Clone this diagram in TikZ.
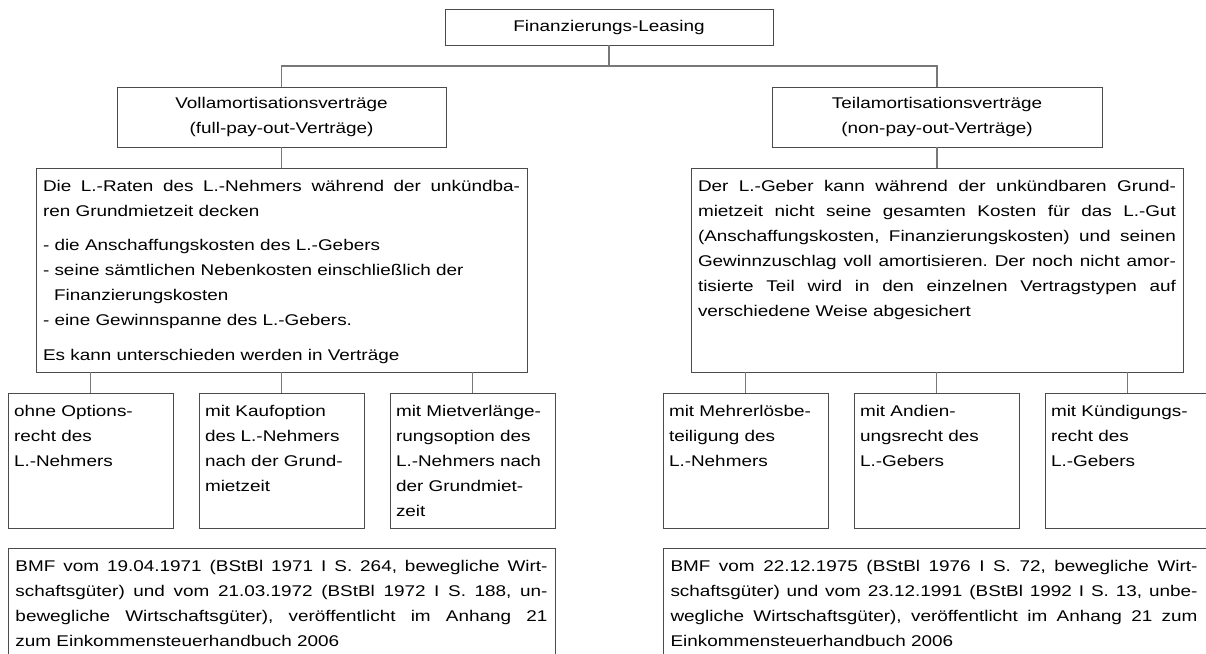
\documentclass[tikz,border=0pt]{standalone}
\usepackage{fontspec}
\setmainfont{Liberation Sans}[FakeStretch=1.22]
\usetikzlibrary{positioning,calc}
\definecolor{framec}{RGB}{75,75,75}
\definecolor{linkc}{RGB}{120,120,120}
\newcommand{\cellbody}[3]{\begin{minipage}[t][#2pt][t]{#1pt}\frenchspacing\strut#3\end{minipage}}

\begin{document}
\begin{tikzpicture}[x=1pt,y=-1pt,font=\fontsize{15.5}{25}\selectfont,
  box/.style={draw=framec,line width=1pt,anchor=north west,inner xsep=7pt,inner ysep=5.5pt,outer sep=0pt},
  head/.style={draw=framec,line width=1pt,align=center,inner sep=0pt,outer sep=0pt},
  link/.style={draw=linkc,line width=1.3pt}]
  \useasboundingbox (0,0) rectangle (1206,653);
  \clip (0,0) rectangle (1206,653);
  % top of the tree
  \node[head,minimum width=328pt,minimum height=36pt] (fin) at (609,27) {Finanzierungs-Leasing};
  \node[head,minimum width=329pt,minimum height=60pt] (voll) at (281.5,117) {Vollamortisationsverträge\\(full-pay-out-Verträge)};
  \node[head,minimum width=330pt,minimum height=60pt] (teil) at (937,117) {Teilamortisationsverträge\\(non-pay-out-Verträge)};
  % descriptions
  \node[box] (vtext) at (36,168) {\cellbody{477}{193}{Die L.-Raten des L.-Nehmers während der unkündba-\linebreak ren Grundmietzeit decken\\[9pt]
    - die Anschaffungskosten des L.-Gebers\\
    - seine sämtlichen Nebenkosten einschließlich der\\
    \hspace*{11pt}Finanzierungskosten\\
    - eine Gewinnspanne des L.-Gebers.\\[10pt]
    Es kann unterschieden werden in Verträge}};
  \node[box] (ttext) at (691,168) {\cellbody{478}{193}{Der L.-Geber kann während der unkündbaren Grund-\linebreak
    mietzeit nicht seine gesamten Kosten für das L.-Gut\linebreak
    (Anschaffungskosten, Finanzierungskosten) und seinen\linebreak
    Gewinnzuschlag voll amortisieren. Der noch nicht amor-\linebreak
    tisierte Teil wird in den einzelnen Vertragstypen auf\linebreak
    verschiedene Weise abgesichert}};
  % contract types
  \node[box,inner xsep=6pt] (ohne) at (8,393) {\cellbody{153}{124}{\raggedright ohne Options-\\recht des\\L.-Nehmers}};
  \node[box,inner xsep=6pt] (kauf) at (199,393) {\cellbody{153}{124}{\raggedright mit Kaufoption\\des L.-Nehmers\\nach der Grund-\\mietzeit}};
  \node[box,inner xsep=6pt] (miet) at (390,393) {\cellbody{153}{124}{\raggedright mit Mietverlänge-\\rungsoption des\\L.-Nehmers nach\\der Grundmiet-\\zeit}};
  \node[box,inner xsep=6pt] (mehr) at (663,393) {\cellbody{153}{124}{\raggedright mit Mehrerlösbe-\\teiligung des\\L.-Nehmers}};
  \node[box,inner xsep=6pt] (andi) at (854,393) {\cellbody{153}{124}{\raggedright mit Andien-\\ungsrecht des\\L.-Gebers}};
  \node[box,inner xsep=6pt] (kuend) at (1045,393) {\cellbody{153}{124}{\raggedright mit Kündigungs-\\recht des\\L.-Gebers}};
  % sources
  \node[box,inner xsep=7.5pt] (bmfv) at (8,548) {\cellbody{532}{120}{BMF vom 19.04.1971 (BStBl 1971 I S. 264, bewegliche Wirt-\linebreak
    schaftsgüter) und vom 21.03.1972 (BStBl 1972 I S. 188, un-\linebreak
    bewegliche Wirtschaftsgüter), veröffentlicht im Anhang 21\linebreak
    zum Einkommensteuerhandbuch 2006}};
  \node[box,inner xsep=7.5pt] (bmft) at (663,548) {\cellbody{527}{120}{BMF vom 22.12.1975 (BStBl 1976 I S. 72, bewegliche Wirt-\linebreak
    schaftsgüter) und vom 23.12.1991 (BStBl 1992 I S. 13, unbe-\linebreak
    wegliche Wirtschaftsgüter), veröffentlicht im Anhang 21 zum\linebreak
    Einkommensteuerhandbuch 2006}\hspace*{10pt}};
  % connectors
  \draw[link] (fin.south) -- ++(0,21) coordinate (fork);
  \draw[link] (voll.north) |- (fork) -| (teil.north);
  \draw[link] (voll.south) -- (vtext.north);
  \draw[link] (teil.south) -- (ttext.north);
  \foreach \c in {ohne,kauf,miet}
    \draw[link] (\c.north) -- (\c.north |- vtext.south);
  \foreach \c in {mehr,andi,kuend}
    \draw[link] (\c.north) -- (\c.north |- ttext.south);
\end{tikzpicture}
\end{document}
